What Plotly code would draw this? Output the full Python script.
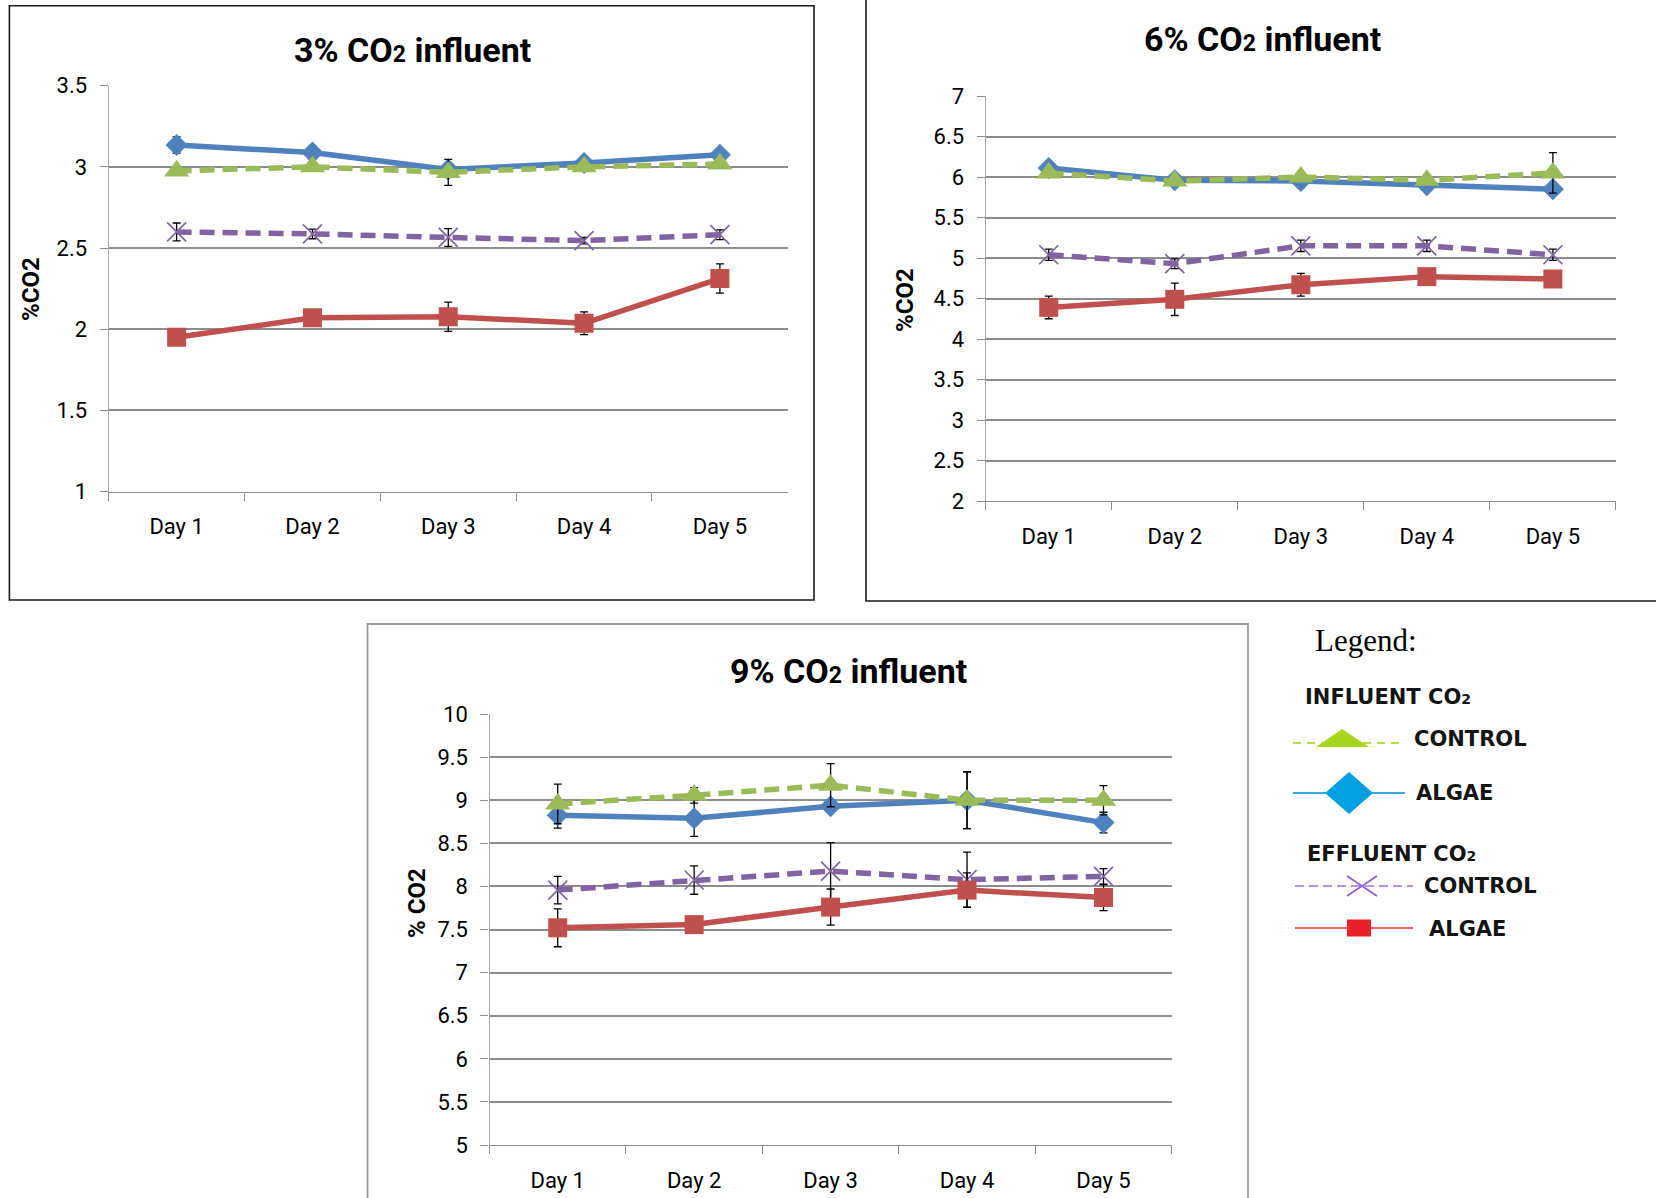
import plotly.graph_objects as go

W, H = 1656, 1198

days = ["Day 1", "Day 2", "Day 3", "Day 4", "Day 5"]

# ---- 3% CO2 influent ----
p3_inf_algae = [3.135, 3.088, 2.984, 3.024, 3.074]
p3_inf_algae_err = [0.05, 0.04, 0.02, 0.03, 0.03]
p3_inf_ctrl = [2.975, 3.0, 2.966, 3.0, 3.018]
p3_inf_ctrl_err = [0.02, 0.02, 0.08, 0.02, 0.02]
p3_eff_ctrl = [2.599, 2.587, 2.565, 2.546, 2.582]
p3_eff_ctrl_err = [0.055, 0.03, 0.055, 0.02, 0.03]
p3_eff_algae = [1.95, 2.07, 2.077, 2.036, 2.312]
p3_eff_algae_err = [0.01, 0.03, 0.09, 0.07, 0.09]

# ---- 6% CO2 influent ----
p6_inf_algae = [6.11, 5.96, 5.95, 5.90, 5.85]
p6_inf_algae_err = [0.05, 0.03, 0.08, 0.05, 0.05]
p6_inf_ctrl = [6.05, 5.95, 6.0, 5.96, 6.05]
p6_inf_ctrl_err = [0.03, 0.03, 0.05, 0.03, 0.25]
p6_eff_ctrl = [5.04, 4.93, 5.15, 5.15, 5.04]
p6_eff_ctrl_err = [0.07, 0.06, 0.07, 0.07, 0.07]
p6_eff_algae = [4.39, 4.49, 4.67, 4.77, 4.74]
p6_eff_algae_err = [0.14, 0.2, 0.14, 0.02, 0.02]

# ---- 9% CO2 influent ----
p9_inf_algae = [8.826, 8.79, 8.93, 9.0, 8.74]
p9_inf_algae_err = [0.15, 0.21, 0.05, 0.33, 0.12]
p9_inf_ctrl = [8.957, 9.057, 9.174, 9.0, 9.0]
p9_inf_ctrl_err = [0.23, 0.09, 0.25, 0.33, 0.17]
p9_eff_ctrl = [7.957, 8.074, 8.178, 8.078, 8.117]
p9_eff_ctrl_err = [0.16, 0.165, 0.33, 0.32, 0.09]
p9_eff_algae = [7.52, 7.557, 7.76, 7.957, 7.87]
p9_eff_algae_err = [0.22, 0.03, 0.21, 0.2, 0.15]

panels = [
    dict(title="3% CO<span style='font-size:23px'>2</span> influent", ytitle="%CO2",
         yrange=[1, 3.5], dtick=0.5,
         xpx=(108.7, 787.8), ypx=(85.7, 491.5),
         tpos=(412, 50), ytpos=(31, 289),
         data=[p3_inf_algae, p3_inf_algae_err, p3_inf_ctrl, p3_inf_ctrl_err,
               p3_eff_ctrl, p3_eff_ctrl_err, p3_eff_algae, p3_eff_algae_err]),
    dict(title="6% CO<span style='font-size:23px'>2</span> influent", ytitle="%CO2",
         yrange=[2, 7], dtick=0.5,
         xpx=(985.7, 1615.9), ypx=(96.0, 501.0),
         tpos=(1262, 39), ytpos=(905, 300),
         data=[p6_inf_algae, p6_inf_algae_err, p6_inf_ctrl, p6_inf_ctrl_err,
               p6_eff_ctrl, p6_eff_ctrl_err, p6_eff_algae, p6_eff_algae_err]),
    dict(title="9% CO<span style='font-size:23px'>2</span> influent", ytitle="% CO2",
         yrange=[5, 10], dtick=0.5,
         xpx=(489.5, 1171.7), ypx=(714.0, 1145.0),
         tpos=(848, 671), ytpos=(417, 903),
         data=[p9_inf_algae, p9_inf_algae_err, p9_inf_ctrl, p9_inf_ctrl_err,
               p9_eff_ctrl, p9_eff_ctrl_err, p9_eff_algae, p9_eff_algae_err]),
]

BLUE, GREEN, PURPLE, RED = "#4F81BD", "#9BBB59", "#8064A2", "#C0504D"
GRID = "#8C8C8C"
FONT = "Roboto"


def px(x):
    return x / W


def py(y):
    return 1 - y / H


fig = go.Figure()
layout = dict(width=W, height=H, margin=dict(l=0, r=0, t=0, b=0, autoexpand=False),
              paper_bgcolor="white", plot_bgcolor="white", showlegend=False)
annotations = []
shapes = []

for i, p in enumerate(panels):
    n = "" if i == 0 else str(i + 1)
    xa, ya = "x" + n, "y" + n
    ia, ie, ca, ce, ec, ece, ea, eae = p["data"]
    err = lambda a: dict(type="data", array=a, color="black", thickness=1.3, width=4)
    series = [
        (ia, ie, BLUE, "solid", dict(symbol="diamond", size=17, color=BLUE)),
        (ca, ce, GREEN, "15px,8px", dict(symbol="triangle-up", size=22, color=GREEN)),
        (ec, ece, PURPLE, "15px,8px", dict(symbol="x-thin", size=19, color=PURPLE,
                                          line=dict(color=PURPLE, width=1.7))),
        (ea, eae, RED, "solid", dict(symbol="square", size=19, color=RED)),
    ]
    for vals, e, col, dash, mk in series:
        fig.add_trace(go.Scatter(x=days, y=vals, mode="lines+markers", xaxis=xa, yaxis=ya,
                                 line=dict(color=col, width=5.5, dash=dash),
                                 marker=mk, error_y=err(e)))
    layout["xaxis" + n] = dict(domain=[px(p["xpx"][0]), px(p["xpx"][1])], anchor=ya,
                               type="category", range=[-0.5, 4.5], tickson="boundaries",
                               ticks="outside", ticklen=8, tickcolor=GRID, tickwidth=1.3,
                               showline=True, linecolor=GRID, linewidth=1.3, showgrid=False,
                               tickfont=dict(family=FONT, size=22, color="black"),
                               ticklabelstandoff=15, automargin=False)
    layout["yaxis" + n] = dict(domain=[py(p["ypx"][1]), py(p["ypx"][0])], anchor=xa,
                               range=p["yrange"], dtick=p["dtick"], tick0=0,
                               ticks="outside", ticklen=8, tickcolor=GRID, tickwidth=1.3,
                               showline=True, linecolor="#A6A6A6", linewidth=1.3,
                               showgrid=True, gridcolor=GRID, gridwidth=1.5, zeroline=False,
                               tickfont=dict(family=FONT, size=22, color="black"),
                               ticklabelstandoff=8, automargin=False)
    annotations.append(dict(text="<b>" + p["title"] + "</b>", x=px(p["tpos"][0]), y=py(p["tpos"][1]),
                            xref="paper", yref="paper", showarrow=False, xanchor="center",
                            yanchor="middle", font=dict(family=FONT, size=34, color="black")))
    annotations.append(dict(text="<b>" + p["ytitle"] + "</b>", x=px(p["ytpos"][0]), y=py(p["ytpos"][1]),
                            xref="paper", yref="paper", showarrow=False, textangle=-90,
                            xanchor="center", yanchor="middle",
                            font=dict(family=FONT, size=24, color="black")))

# panel borders
shapes.append(dict(type="rect", xref="paper", yref="paper", x0=px(9.4), x1=px(814), y0=py(5.8), y1=py(600),
                   line=dict(color="#1a1a1a", width=1.6)))
shapes.append(dict(type="rect", xref="paper", yref="paper", x0=px(866), x1=px(1665), y0=py(-5), y1=py(601),
                   line=dict(color="#1a1a1a", width=1.6)))
shapes.append(dict(type="rect", xref="paper", yref="paper", x0=px(367.5), x1=px(1248), y0=py(624), y1=py(1210),
                   line=dict(color="#9a9a9a", width=1.8)))

# custom legend
LEG = "DejaVu Sans"
annotations.append(dict(text="Legend:", x=px(1313), y=py(640), xref="paper", yref="paper", showarrow=False,
                        xanchor="left", yanchor="middle",
                        font=dict(family="Liberation Serif", size=31, color="black")))
for txt, xx, yy in [("INFLUENT CO<span style='font-size:14px'>2</span>", 1303, 697),
                    ("EFFLUENT CO<span style='font-size:14px'>2</span>", 1305, 854),
                    ("CONTROL", 1412, 739), ("ALGAE", 1414, 793),
                    ("CONTROL", 1422, 886), ("ALGAE", 1427, 929)]:
    annotations.append(dict(text="<b>" + txt + "</b>", x=px(xx), y=py(yy), xref="paper", yref="paper",
                            showarrow=False, xanchor="left", yanchor="middle",
                            font=dict(family=LEG, size=21, color="#141414")))

def seg(x0, y0, x1, y1, col, w, dash="solid"):
    shapes.append(dict(type="line", xref="paper", yref="paper", x0=px(x0), y0=py(y0), x1=px(x1), y1=py(y1),
                       line=dict(color=col, width=w, dash=dash)))

def poly(pts, col):
    path = "M " + " L ".join(f"{px(a):.5f},{py(b):.5f}" for a, b in pts) + " Z"
    shapes.append(dict(type="path", xref="paper", yref="paper", path=path, fillcolor=col,
                       line=dict(color=col, width=0)))

seg(1293, 743, 1399, 743, "#B4DC3C", 2, "8px,6px")
poly([(1316, 747), (1369, 747), (1342, 729)], "#A8D61E")
seg(1293, 793, 1405, 793, "#33A9E0", 2)
poly([(1325, 793), (1349, 772), (1373, 793), (1349, 814)], "#00A0E3")
seg(1295, 886, 1413, 886, "#9B72D6", 1.6, "9px,5px")
seg(1347, 876, 1377, 896, "#8E5FD0", 1.6)
seg(1347, 896, 1377, 876, "#8E5FD0", 1.6)
seg(1295, 928, 1413, 928, "#F0606A", 2)
poly([(1347, 919.5), (1371, 919.5), (1371, 936.5), (1347, 936.5)], "#E8202A")

layout["annotations"] = annotations
layout["shapes"] = shapes
fig.update_layout(**layout)
fig.write_html("out.html")
